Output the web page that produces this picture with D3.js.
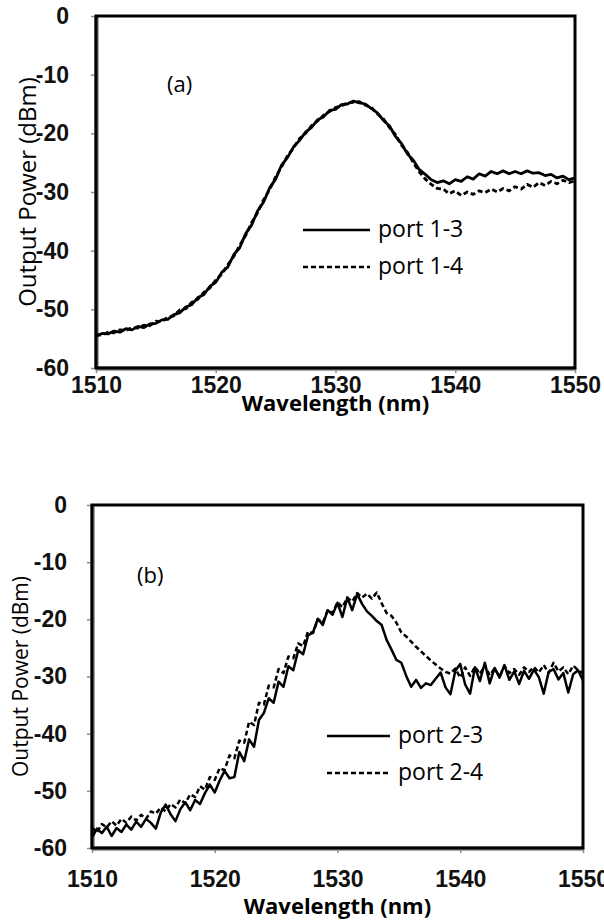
<!DOCTYPE html>
<html>
<head>
<meta charset="utf-8">
<script src="https://cdnjs.cloudflare.com/ajax/libs/d3/7.8.5/d3.min.js"></script>
<style>
  body { margin: 0; background: #fff; }
  svg { display: block; font-family: "Open Sans", sans-serif; }
  .axis .domain { stroke: #8a8a8a; stroke-width: 4.5; }
  .axis .tick line { stroke: #8a8a8a; stroke-width: 1.5; }
  .axis .tick text { font-size: 23px; font-weight: bold; fill: #111; }
</style>
</head>
<body>
<svg id="chart" width="604" height="922"></svg>
<script>

// tick values (shared by both panels)
var xTicks = [1510, 1520, 1530, 1540, 1550];
var yTicks = [0, -10, -20, -30, -40, -50, -60];

// panel (a): sampled every 0.5 nm from 1510 nm
var stepA = 0.5;
var port13 = [-54.6, -54.1, -54.2, -53.7, -53.9, -53.3, -53.5, -52.9, -53.1, -52.5,
  -52.4, -51.8, -51.7, -50.9, -50.6, -49.6, -49.2, -48.0, -47.5, -46.1,
  -45.4, -43.7, -42.8, -40.7, -39.5, -37.1, -35.6, -33.2, -31.7, -29.3,
  -27.8, -25.4, -24.1, -22.3, -21.2, -19.8, -19.0, -17.7, -17.2, -16.1,
  -15.9, -15.1, -15.0, -14.5, -14.8, -15.0, -15.8, -16.5, -17.8, -18.7,
  -20.5, -21.7, -23.5, -24.6, -26.2, -27.0, -27.9, -28.4, -28.1, -28.6,
  -27.9, -28.2, -27.4, -27.8, -26.9, -27.3, -26.5, -26.9, -26.4, -26.9,
  -26.5, -26.9, -26.4, -26.8, -26.7, -27.2, -27.0, -27.6, -27.3, -27.9, -27.6];
var port14 = [-54.3, -54.4, -53.9, -54.0, -53.5, -53.6, -53.1, -53.2, -52.7, -52.8,
  -52.0, -52.1, -51.3, -51.1, -50.1, -49.9, -48.8, -48.3, -47.1, -46.4,
  -45.0, -44.0, -42.4, -41.0, -39.1, -37.4, -35.2, -33.5, -31.3, -29.6,
  -27.4, -25.7, -23.8, -22.5, -20.9, -20.0, -18.7, -17.9, -16.9, -16.3,
  -15.6, -15.3, -14.8, -14.7, -14.6, -15.2, -15.6, -16.7, -17.5, -19.0,
  -20.2, -22.0, -23.2, -25.0, -26.6, -27.8, -28.7, -29.4, -29.5, -30.3,
  -29.8, -30.6, -30.0, -30.4, -29.8, -30.1, -29.5, -30.0, -29.4, -29.8,
  -29.1, -29.5, -28.7, -29.2, -28.4, -28.9, -28.2, -28.6, -28.0, -28.4, -28.1];

// panel (b): sampled every 0.4 nm from 1510 nm
var stepB = 0.4;
var port23 = [-58.2, -56.6, -57.4, -56.3, -57.9, -56.5, -57.2, -55.9, -56.8, -55.4,
  -56.3, -54.9, -55.6, -56.6, -53.8, -52.4, -54.1, -55.3, -53.2, -52.0,
  -53.4, -51.6, -52.3, -50.4, -48.9, -50.3, -48.2, -46.5, -47.8, -47.6,
  -43.2, -44.8, -41.0, -42.3, -37.6, -36.4, -33.8, -34.6, -30.9, -31.8,
  -28.2, -28.9, -25.4, -26.1, -22.8, -22.3, -19.9, -21.0, -18.4, -19.2,
  -17.1, -19.6, -16.2, -18.4, -15.6, -17.3, -18.6, -19.4, -20.3, -21.0,
  -23.6, -25.3, -27.1, -27.6, -29.9, -31.8, -30.6, -32.0, -31.2, -31.5,
  -30.4, -29.3, -31.9, -33.1, -29.0, -27.8, -31.4, -33.0, -28.4, -30.8,
  -27.6, -31.2, -28.5, -30.2, -28.0, -30.6, -29.1, -31.3, -29.0, -30.4,
  -28.8, -30.1, -33.0, -29.2, -28.7, -30.5, -29.4, -32.8, -29.6, -28.9, -30.7];
var port24 = [-56.4, -57.3, -55.8, -56.4, -55.3, -56.1, -54.9, -55.6, -54.5, -55.2,
  -54.2, -54.9, -53.6, -54.0, -52.9, -53.6, -52.3, -52.9, -51.5, -52.2,
  -50.6, -51.1, -49.2, -49.8, -47.6, -48.1, -46.0, -46.4, -43.8, -44.3,
  -41.2, -41.6, -37.9, -38.5, -34.6, -34.9, -31.6, -31.9, -28.7, -29.4,
  -26.5, -26.8, -24.2, -24.7, -22.1, -22.4, -20.0, -20.6, -18.4, -18.9,
  -17.0, -17.9, -16.2, -16.9, -15.4, -16.2, -15.5, -16.4, -15.3, -17.2,
  -18.9, -19.4, -20.6, -22.3, -23.0, -23.9, -24.8, -25.6, -26.4, -27.2,
  -27.9, -28.6, -29.2, -29.5, -28.6, -30.2, -28.4, -29.9, -28.3, -29.6,
  -28.0, -29.8, -28.6, -30.0, -28.2, -29.4, -28.7, -29.7, -28.4, -29.2,
  -28.3, -29.3, -28.0, -29.4, -27.6, -29.1, -28.4, -29.6, -28.1, -28.9, -29.4];

var svg = d3.select("#chart");

// turn a value list into points, wavelength from index
function toPoints(values, step) {
    return values.map(function(v, i) { return {w: 1510 + i * step, p: v}; });
}

drawPanel({
    box: {left: 96, top: 16, right: 575, bottom: 368},
    label: "(a)", labelPos: [167, 92],
    series: [{name: "port 1-3", pts: toPoints(port13, stepA), dash: null},
             {name: "port 1-4", pts: toPoints(port14, stepA), dash: "5,3"}],
    legend: {x: 303, y: 230, len: 67, gap: 37},
    xPad: 4, yPad: 22, lineW: 2.8,
    xTitleY: 411, yTitle: {x: 30, size: 24}
});

drawPanel({
    box: {left: 92, top: 505, right: 583, bottom: 848},
    label: "(b)", labelPos: [137, 583],
    series: [{name: "port 2-3", pts: toPoints(port23, stepB), dash: null},
             {name: "port 2-4", pts: toPoints(port24, stepB), dash: "5,3"}],
    legend: {x: 327, y: 736, len: 63, gap: 37},
    xPad: 18, yPad: 20, lineW: 2.5,
    xTitleY: 914, yTitle: {x: 22, size: 21}
});

function drawPanel(cfg) {
    var b = cfg.box;
    var x = d3.scaleLinear().domain([1510, 1550]).range([b.left, b.right]);
    var y = d3.scaleLinear().domain([-60, 0]).range([b.bottom, b.top]);

    var g = svg.append("g");

    g.append("g")
        .attr("class", "axis")
        .attr("transform", "translate(0," + b.bottom + ")")
        .call(d3.axisBottom(x).tickValues(xTicks).tickSize(5).tickSizeOuter(0)
            .tickPadding(cfg.xPad).tickFormat(d => String(d)));

    // plain hyphen for negatives, as in the original
    g.append("g")
        .attr("class", "axis")
        .attr("transform", "translate(" + b.left + ",0)")
        .call(d3.axisLeft(y).tickValues(yTicks).tickSize(5).tickSizeOuter(0)
            .tickPadding(cfg.yPad).tickFormat(d => String(d)));

    // curves
    var line = d3.line().x(d => x(d.w)).y(d => y(d.p));
    cfg.series.forEach(function(s) {
        g.append("path")
            .datum(s.pts)
            .attr("d", line)
            .attr("fill", "none")
            .attr("stroke", "#000")
            .attr("stroke-width", cfg.lineW)
            .attr("stroke-linejoin", "round")
            .attr("stroke-dasharray", s.dash);
    });

    // plot frame on top
    g.append("rect")
        .attr("x", b.left).attr("y", b.top)
        .attr("width", b.right - b.left).attr("height", b.bottom - b.top)
        .attr("fill", "none")
        .attr("stroke", "#000")
        .attr("stroke-width", 3);

    g.append("text")
        .attr("x", cfg.labelPos[0]).attr("y", cfg.labelPos[1])
        .attr("font-size", 22)
        .text(cfg.label);

    // legend
    var lg = cfg.legend;
    cfg.series.forEach(function(s, i) {
        var ly = lg.y + i * lg.gap;
        g.append("line")
            .attr("x1", lg.x).attr("x2", lg.x + lg.len)
            .attr("y1", ly).attr("y2", ly)
            .attr("stroke", "#000")
            .attr("stroke-width", 2.4)
            .attr("stroke-dasharray", s.dash);
        g.append("text")
            .attr("x", lg.x + lg.len + 8).attr("y", ly + 7)
            .attr("font-size", 23)
            .text(s.name);
    });

    // axis titles
    g.append("text")
        .attr("x", (b.left + b.right) / 2).attr("y", cfg.xTitleY)
        .attr("text-anchor", "middle")
        .attr("font-size", 22).attr("font-weight", "bold")
        .text("Wavelength (nm)");

    g.append("text")
        .attr("transform", "translate(" + cfg.yTitle.x + "," + (b.top + b.bottom) / 2 + ") rotate(-90)")
        .attr("text-anchor", "middle")
        .attr("dominant-baseline", "middle")
        .attr("font-size", cfg.yTitle.size)
        .text("Output Power (dBm)");
}
</script>
</body>
</html>
